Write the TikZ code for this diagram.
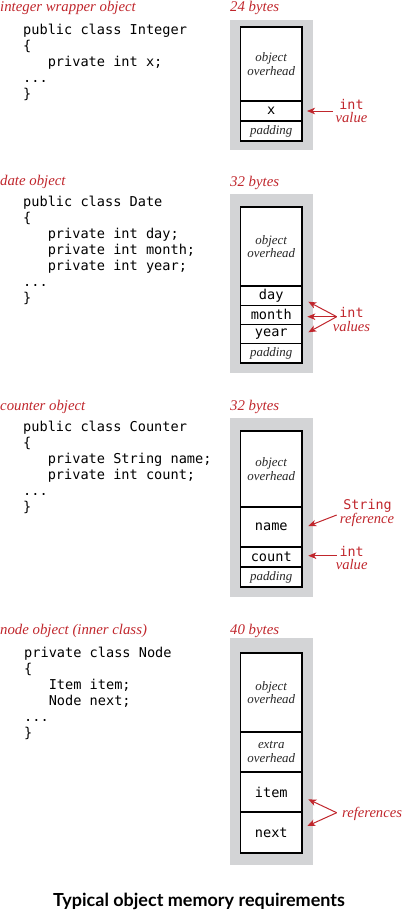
\documentclass[tikz,border=0pt]{standalone}
\usepackage{fontspec}
\setmainfont{Liberation Serif}
\setmonofont{DejaVu Sans Mono}
\newfontfamily\capfont{Lato}
\usetikzlibrary{arrows.meta}
\definecolor{memred}{RGB}{192,38,44}
\definecolor{memgray}{RGB}{211,212,214}
\begin{document}
\begin{tikzpicture}[x=1pt,y=-1pt,
  title/.style={anchor=base west, inner sep=0, text=memred, font=\fontsize{14.8}{16}\selectfont\itshape},
  code/.style={anchor=north west, inner sep=0, align=left, font=\fontsize{13.6}{16}\selectfont\ttfamily},
  bg/.style={fill=memgray, anchor=north west, inner sep=0, outer sep=0, minimum width=83.5pt},
  cell/.style={draw, line width=1.45pt, fill=white, anchor=north west, inner sep=0, outer sep=0, minimum width=61.5pt, align=center},
  ital/.style={font=\fontsize{12.9}{13.5}\selectfont\itshape, text=black!85},
  mono/.style={font=\fontsize{13.6}{16}\selectfont\ttfamily},
  redmono/.style={anchor=base, inner sep=0, text=memred, font=\fontsize{13.4}{16}\selectfont\ttfamily},
  redital/.style={anchor=base, inner sep=0, text=memred, font=\fontsize{14.6}{16}\selectfont\itshape},
  arr/.style={draw=memred, line width=1pt, -{Stealth[length=8pt,width=6.5pt,inset=2.2pt]}},
  caption/.style={anchor=base, inner sep=0, font=\fontsize{18}{20}\selectfont\capfont\bfseries}
]
\useasboundingbox (0,0) rectangle (402,910);

% ---------- integer wrapper ----------
\node[title] (t1) at (0,11) {integer wrapper object};
\node[title] (b1) at (230,11) {24 bytes};
\node[code] (code1) at (23,22) {\rule{0pt}{12pt}public class Integer\\\{\\\phantom{xxx}private int x;\\...\\\}};
\node[bg, minimum height=130pt] (g1) at (229.5,20) {};
\node[cell, minimum height=74pt, ital] (o1) at (240.5,27) {object\\overhead};
\node[cell, minimum height=20pt, mono] (x1) at (240.5,101) {x};
\node[cell, minimum height=20pt, ital] (p1) at (240.5,121) {padding};
\node[redmono] (i1) at (351.5,109) {int};
\node[redital] (v1) at (351.5,122.5) {value};
\coordinate (a1s) at (333,111);
\coordinate (a1e) at (307,111);
\draw[arr] (a1s) -- (a1e);

% ---------- date ----------
\node[title] (t2) at (0,185) {date object};
\node[title] (b2) at (230,186) {32 bytes};
\node[code] (code2) at (23,194) {\rule{0pt}{12pt}public class Date\\\{\\\phantom{xxx}private int day;\\\phantom{xxx}private int month;\\\phantom{xxx}private int year;\\...\\\}};
\node[bg, minimum height=179pt] (g2) at (229.5,194) {};
\node[cell, minimum height=79pt, ital] (o2) at (240.5,207) {object\\overhead};
\node[cell, minimum height=19.25pt, mono] (d2) at (240.5,286) {day};
\node[cell, minimum height=19.25pt, mono] (m2) at (240.5,305.25) {month};
\node[cell, minimum height=19.25pt, mono] (y2) at (240.5,324.5) {year};
\node[cell, minimum height=19.25pt, ital] (p2) at (240.5,343.75) {padding};
\node[redmono] (i2) at (351.5,317) {int};
\node[redital] (v2) at (351.5,331) {values};
\coordinate (a2s) at (336.7,316.7);
\coordinate (a2d) at (308.3,301.7);
\coordinate (a2m) at (307.3,316.7);
\coordinate (a2y) at (308.3,332.3);
\draw[arr] (a2s) -- (a2d);
\draw[arr] (a2s) -- (a2m);
\draw[arr] (a2s) -- (a2y);

% ---------- counter ----------
\node[title] (t3) at (0,410) {counter object};
\node[title] (b3) at (230,410) {32 bytes};
\node[code] (code3) at (23,419) {\rule{0pt}{12pt}public class Counter\\\{\\\phantom{xxx}private String name;\\\phantom{xxx}private int count;\\...\\\}};
\node[bg, minimum height=179pt] (g3) at (229.5,418) {};
\node[cell, minimum height=76pt, ital] (o3) at (240.5,431) {object\\overhead};
\node[cell, minimum height=40pt, mono] (n3) at (240.5,507) {name};
\node[cell, minimum height=20pt, mono] (c3) at (240.5,547) {count};
\node[cell, minimum height=20pt, ital] (p3) at (240.5,567) {padding};
\node[redmono] (s3) at (367.5,509.5) {String};
\node[redital] (r3) at (367,523.5) {reference};
\node[redmono] (i3) at (351.7,556) {int};
\node[redital] (v3) at (351.7,569) {value};
\coordinate (a3s) at (336.7,515);
\coordinate (a3e) at (308.3,526);
\coordinate (a3t) at (336.7,555.7);
\coordinate (a3f) at (308.3,555.7);
\draw[arr] (a3s) -- (a3e);
\draw[arr] (a3t) -- (a3f);

% ---------- node ----------
\node[title] (t4) at (0,634) {node object (inner class)};
\node[title] (b4) at (230,634) {40 bytes};
\node[code] (code4) at (24,645) {\rule{0pt}{12pt}private class Node\\\{\\\phantom{xxx}Item item;\\\phantom{xxx}Node next;\\...\\\}};
\node[bg, minimum height=227pt] (g4) at (229.5,638) {};
\node[cell, minimum height=79pt, ital] (o4) at (240.5,653) {object\\overhead};
\node[cell, minimum height=40pt, ital] (e4) at (240.5,732) {extra\\overhead};
\node[cell, minimum height=40pt, mono] (it4) at (240.5,772) {item};
\node[cell, minimum height=41pt, mono] (nx4) at (240.5,812) {next};
\node[redital, anchor=base west] (r4) at (342,817) {references};
\coordinate (a4s) at (336.7,812.7);
\coordinate (a4i) at (308.3,799.3);
\coordinate (a4n) at (307.3,826);
\draw[arr] (a4s) -- (a4i);
\draw[arr] (a4s) -- (a4n);

% ---------- caption ----------
\node[caption] (cap) at (199,906.5) {Typical object memory requirements};
\end{tikzpicture}
\end{document}
